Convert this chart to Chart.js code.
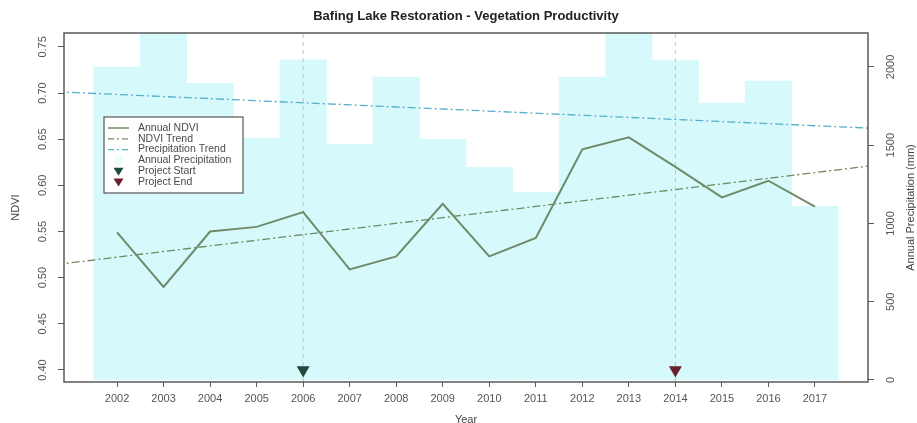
<!DOCTYPE html>
<html><head><meta charset="utf-8">
<script src="https://cdn.jsdelivr.net/npm/chart.js@4.4.1/dist/chart.umd.min.js"></script>
<style>html,body{margin:0;padding:0;background:#fff}#wrap{width:917px;height:423px;position:relative}</style>
</head><body><div id="wrap"><canvas id="c"></canvas></div>
<script>
const chartTitle = 'Bafing Lake Restoration - Vegetation Productivity';
const years = [2002,2003,2004,2005,2006,2007,2008,2009,2010,2011,2012,2013,2014,2015,2016,2017];
const ndvi = [0.549,0.490,0.550,0.555,0.571,0.509,0.523,0.580,0.523,0.543,0.639,0.652,0.620,0.587,0.605,0.577];
const precipitation = [2000,2230,1895,1545,2045,1505,1936,1538,1359,1199,1936,2240,2040,1770,1910,1110];
const trendYears = [2000,2019];
const ndviTrend = [0.510,0.626];
const precipTrend = [1851,1598];
const projectYears = [2006,2014];
const projectLabels = ['Project Start','Project End'];
const ndviTicks = [0.40,0.45,0.50,0.55,0.60,0.65,0.70,0.75];
const precipTicks = [0,500,1000,1500,2000];
const legendLabels = ['Annual NDVI','NDVI Trend','Precipitation Trend','Annual Precipitation','Project Start','Project End'];

const X_MIN = 2000.86, X_MAX = 2018.14;
const NDVI_MIN = 0.387, NDVI_MAX = 0.765;
const P_MIN = -12.8, P_MAX = 2217;

const FONT = "'Liberation Sans', Arial, Helvetica, sans-serif";
const C_NDVI = '#6f8a68';
const C_NDVI_TREND = '#6f8a60';
const C_PTREND = '#58aec9';
const C_BAR = '#d6fafc';
const C_VLINE = 'rgba(205,160,168,0.75)';
const C_START = '#1f4b3c';
const C_END = '#6b1f2c';

const pairs = (xs, ys) => xs.map((x,i)=>({x:x,y:ys[i]}));

const decor = {
  id:'decor',
  afterDraw(chart){
    const ctx = chart.ctx, a = chart.chartArea;
    const sy = chart.scales.y, sp = chart.scales.yP;
    ctx.save();
    // box
    ctx.strokeStyle = '#5a5a5a'; ctx.lineWidth = 1.5;
    ctx.strokeRect(a.left, a.top, a.right-a.left, a.bottom-a.top);
    // title
    ctx.fillStyle = '#222';
    ctx.font = 'bold 13px ' + FONT;
    ctx.textAlign = 'center'; ctx.textBaseline = 'middle';
    ctx.fillText(chartTitle, (a.left+a.right)/2, 16);
    // y tick labels rotated
    ctx.font = '11px ' + FONT; ctx.fillStyle = '#555';
    ndviTicks.forEach(v=>{
      const y = sy.getPixelForValue(v);
      ctx.save(); ctx.translate(43, y); ctx.rotate(-Math.PI/2);
      ctx.fillText(v.toFixed(2), 0, 0); ctx.restore();
    });
    precipTicks.forEach(v=>{
      const y = sp.getPixelForValue(v);
      ctx.save(); ctx.translate(891, y); ctx.rotate(-Math.PI/2);
      ctx.fillText(String(v), 0, 0); ctx.restore();
    });
    // axis titles
    ctx.fillStyle = '#444';
    ctx.save(); ctx.translate(16, (a.top+a.bottom)/2); ctx.rotate(-Math.PI/2);
    ctx.fillText('NDVI', 0, 0); ctx.restore();
    ctx.save(); ctx.translate(911, (a.top+a.bottom)/2); ctx.rotate(-Math.PI/2);
    ctx.fillText('Annual Precipitation (mm)', 0, 0); ctx.restore();
    ctx.fillText('Year', (a.left+a.right)/2, 420);
    // legend
    const lx = 104, ly = 117, lw = 139, lh = 76;
    ctx.fillStyle = '#fff'; ctx.fillRect(lx, ly, lw, lh);
    ctx.strokeStyle = '#555'; ctx.lineWidth = 1.2; ctx.strokeRect(lx, ly, lw, lh);
    ctx.font = '10.5px ' + FONT; ctx.textAlign = 'left';
    legendLabels.forEach((lab, i)=>{
      const yy = ly + 11 + i*10.8;
      const x0 = lx + 4, x1 = lx + 25, xc = (x0+x1)/2;
      ctx.setLineDash([]);
      if (i === 0) { ctx.strokeStyle = C_NDVI; ctx.lineWidth = 1.5; ctx.beginPath(); ctx.moveTo(x0,yy); ctx.lineTo(x1,yy); ctx.stroke(); }
      if (i === 1) { ctx.strokeStyle = C_NDVI_TREND; ctx.lineWidth = 1.2; ctx.setLineDash([6,3,2,3]); ctx.beginPath(); ctx.moveTo(x0,yy); ctx.lineTo(x1,yy); ctx.stroke(); }
      if (i === 2) { ctx.strokeStyle = C_PTREND; ctx.lineWidth = 1.2; ctx.setLineDash([6,3,2,3]); ctx.beginPath(); ctx.moveTo(x0,yy); ctx.lineTo(x1,yy); ctx.stroke(); }
      if (i === 3) { ctx.fillStyle = '#eafdfd'; ctx.fillRect(xc-4, yy-4, 8, 8); }
      if (i >= 4) {
        ctx.fillStyle = i === 4 ? C_START : C_END;
        ctx.beginPath(); ctx.moveTo(xc-5, yy-3.5); ctx.lineTo(xc+5, yy-3.5); ctx.lineTo(xc, yy+4.5); ctx.closePath(); ctx.fill();
      }
      ctx.setLineDash([]);
      ctx.fillStyle = '#4a4a4a';
      ctx.fillText(lab, lx + 34, yy);
    });
    ctx.restore();
  }
};

new Chart(document.getElementById('c'), {
  type: 'bar',
  data: {
    datasets: [
      { type:'line', label:'Project Start line', data: pairs([projectYears[0],projectYears[0]],[NDVI_MIN,NDVI_MAX]), yAxisID:'y',
        borderColor:C_VLINE, borderWidth:1, borderDash:[4,4], pointRadius:0, order:5 },
      { type:'line', label:'Project End line', data: pairs([projectYears[1],projectYears[1]],[NDVI_MIN,NDVI_MAX]), yAxisID:'y',
        borderColor:C_VLINE, borderWidth:1, borderDash:[4,4], pointRadius:0, order:5 },
      { type:'line', label:'Precipitation Trend', data: pairs(trendYears, precipTrend), yAxisID:'yP',
        borderColor:C_PTREND, borderWidth:1.3, borderDash:[8,3,2,3], pointRadius:0, order:4 },
      { type:'line', label:'NDVI Trend', data: pairs(trendYears, ndviTrend), yAxisID:'y',
        borderColor:C_NDVI_TREND, borderWidth:1.3, borderDash:[8,3,2,3], pointRadius:0, order:3 },
      { type:'line', label:'Annual NDVI', data: pairs(years, ndvi), yAxisID:'y',
        borderColor:C_NDVI, borderWidth:2, pointRadius:0, tension:0, order:2 },
      { type:'line', label:'Project markers', data: pairs(projectYears, [0.40,0.40]), yAxisID:'y',
        showLine:false, pointStyle:'triangle', rotation:180, pointRadius:7.5,
        pointBackgroundColor:[C_START,C_END], pointBorderColor:[C_START,C_END], pointBorderWidth:0, order:1, clip:false },
      { type:'bar', label:'Annual Precipitation', data: pairs(years, precipitation), yAxisID:'yP',
        backgroundColor:C_BAR, borderWidth:0, barPercentage:1, categoryPercentage:1, order:10 }
    ]
  },
  options: {
    responsive:true, maintainAspectRatio:false, animation:false,
    layout:{ padding:{ top:33, left:0, right:0, bottom:0 } },
    plugins:{ legend:{display:false}, tooltip:{enabled:false}, title:{display:false} },
    scales:{
      x:{ type:'linear', min:X_MIN, max:X_MAX, offset:false,
        afterBuildTicks: s => { s.ticks = years.map(v=>({value:v})); },
        afterFit: s => { s.height = 41; },
        ticks:{ autoSkip:false, maxRotation:0, callback: v => String(v), color:'#555', font:{family:FONT, size:11}, padding:5 },
        grid:{ display:true, drawOnChartArea:false, drawTicks:true, tickLength:5, color:'#5a5a5a', lineWidth:1, offset:false },
        border:{ display:false } },
      y:{ type:'linear', position:'left', min:NDVI_MIN, max:NDVI_MAX,
        afterBuildTicks: s => { s.ticks = ndviTicks.map(v=>({value:v})); },
        afterFit: s => { s.width = 64; },
        ticks:{ display:false },
        grid:{ display:true, drawOnChartArea:false, drawTicks:true, tickLength:6, color:'#5a5a5a', lineWidth:1 },
        border:{ display:false } },
      yP:{ type:'linear', position:'right', min:P_MIN, max:P_MAX,
        afterBuildTicks: s => { s.ticks = precipTicks.map(v=>({value:v})); },
        afterFit: s => { s.width = 49; },
        ticks:{ display:false },
        grid:{ display:true, drawOnChartArea:false, drawTicks:true, tickLength:6, color:'#5a5a5a', lineWidth:1 },
        border:{ display:false } }
    }
  },
  plugins:[decor]
});
</script>
</body></html>
